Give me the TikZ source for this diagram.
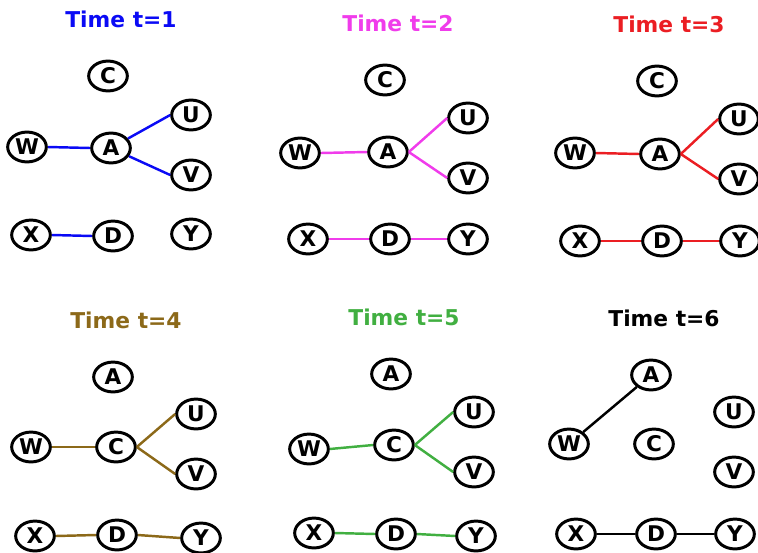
\documentclass[tikz,border=0pt]{standalone}
\usepackage{fontspec}
\setmainfont{DejaVu Sans}
\usetikzlibrary{shapes.geometric}

\definecolor{tblue}{RGB}{10,10,245}
\definecolor{tpink}{RGB}{240,60,235}
\definecolor{tred}{RGB}{235,30,35}
\definecolor{tbrown}{RGB}{140,105,25}
\definecolor{tgreen}{RGB}{65,175,65}

\tikzset{
  vertex/.style={draw, ellipse, fill=white, line width=1.7pt, inner sep=0pt,
    minimum width=22pt, minimum height=17pt,
    font=\fontsize{12.3}{12}\selectfont\bfseries},
  title/.style={font=\fontsize{12.4}{14}\selectfont\bfseries},
  link/.style={line width=1.4pt}
}

\begin{document}
\begin{tikzpicture}[x=0.02cm, y=-0.02cm]
  \useasboundingbox (0,0) rectangle (758,552);

  % t=1
  \node[title, text=tblue] (title1) at (121,19) {Time t=1};
  \node[vertex] (c1) at (108,76) {C};
  \node[vertex] (u1) at (191,115) {U};
  \node[vertex] (w1) at (27,147) {W};
  \node[vertex] (a1) at (111,148) {A};
  \node[vertex] (v1) at (191,175) {V};
  \node[vertex] (x1) at (31,235) {X};
  \node[vertex] (d1) at (113,236) {D};
  \node[vertex] (y1) at (191,234) {Y};
  \draw[link, tblue] (w1.east) -- (a1.west);
  \draw[link, tblue] (a1) -- (u1.west);
  \draw[link, tblue] (a1) -- (v1.west);
  \draw[link, tblue] (x1.east) -- (d1.west);

  % t=2
  \node[title, text=tpink] (title2) at (398,23) {Time t=2};
  \node[vertex] (c2) at (385,80) {C};
  \node[vertex] (u2) at (468,118) {U};
  \node[vertex] (w2) at (300,153) {W};
  \node[vertex] (a2) at (388,152) {A};
  \node[vertex] (v2) at (468,178) {V};
  \node[vertex] (x2) at (308,239) {X};
  \node[vertex] (d2) at (390,239) {D};
  \node[vertex] (y2) at (468,239) {Y};
  \draw[link, tpink] (w2.east) -- (a2.west);
  \draw[link, tpink] (a2.east) -- (u2.west);
  \draw[link, tpink] (a2.east) -- (v2.west);
  \draw[link, tpink] (x2.east) -- (d2.west);
  \draw[link, tpink] (d2.east) -- (y2.west);

  % t=3
  \node[title, text=tred] (title3) at (669,24) {Time t=3};
  \node[vertex] (c3) at (657,81) {C};
  \node[vertex] (u3) at (739,119) {U};
  \node[vertex] (w3) at (575,153) {W};
  \node[vertex] (a3) at (660,154) {A};
  \node[vertex] (v3) at (739,179) {V};
  \node[vertex] (x3) at (580,241) {X};
  \node[vertex] (d3) at (662,241) {D};
  \node[vertex] (y3) at (740,241) {Y};
  \draw[link, tred] (w3.east) -- (a3.west);
  \draw[link, tred] (a3.east) -- (u3.west);
  \draw[link, tred] (a3.east) -- (v3.west);
  \draw[link, tred] (x3.east) -- (d3.west);
  \draw[link, tred] (d3.east) -- (y3.west);

  % t=4
  \node[title, text=tbrown] (title4) at (126,320) {Time t=4};
  \node[vertex] (a4) at (113,377) {A};
  \node[vertex] (u4) at (196,414) {U};
  \node[vertex] (w4) at (31,447) {W};
  \node[vertex] (c4) at (116,447) {C};
  \node[vertex] (v4) at (196,474) {V};
  \node[vertex] (x4) at (35,536) {X};
  \node[vertex] (d4) at (117,535) {D};
  \node[vertex] (y4) at (201,538) {Y};
  \draw[link, tbrown] (w4.east) -- (c4.west);
  \draw[link, tbrown] (c4.east) -- (u4.west);
  \draw[link, tbrown] (c4.east) -- (v4.west);
  \draw[link, tbrown] (x4.east) -- (d4.west);
  \draw[link, tbrown] (d4.east) -- (y4.west);

  % t=5
  \node[title, text=tgreen] (title5) at (404,317) {Time t=5};
  \node[vertex] (a5) at (391,374) {A};
  \node[vertex] (u5) at (474,412) {U};
  \node[vertex] (w5) at (309,449) {W};
  \node[vertex] (c5) at (394,445) {C};
  \node[vertex] (v5) at (474,472) {V};
  \node[vertex] (x5) at (314,533) {X};
  \node[vertex] (d5) at (396,534) {D};
  \node[vertex] (y5) at (476,536) {Y};
  \draw[link, tgreen] (w5.east) -- (c5.west);
  \draw[link, tgreen] (c5.east) -- (u5.west);
  \draw[link, tgreen] (c5.east) -- (v5.west);
  \draw[link, tgreen] (x5.east) -- (d5.west);
  \draw[link, tgreen] (d5.east) -- (y5.west);

  % t=6
  \node[title] (title6) at (664,318) {Time t=6};
  \node[vertex] (a6) at (651,375) {A};
  \node[vertex] (u6) at (734,412) {U};
  \node[vertex] (w6) at (569,444) {W};
  \node[vertex] (c6) at (654,444) {C};
  \node[vertex] (v6) at (734,472) {V};
  \node[vertex] (x6) at (576,534) {X};
  \node[vertex] (d6) at (656,534) {D};
  \node[vertex] (y6) at (735,534) {Y};
  \draw[link] (w6) -- (a6);
  \draw[link] (x6.east) -- (d6.west);
  \draw[link] (d6.east) -- (y6.west);
\end{tikzpicture}
\end{document}
